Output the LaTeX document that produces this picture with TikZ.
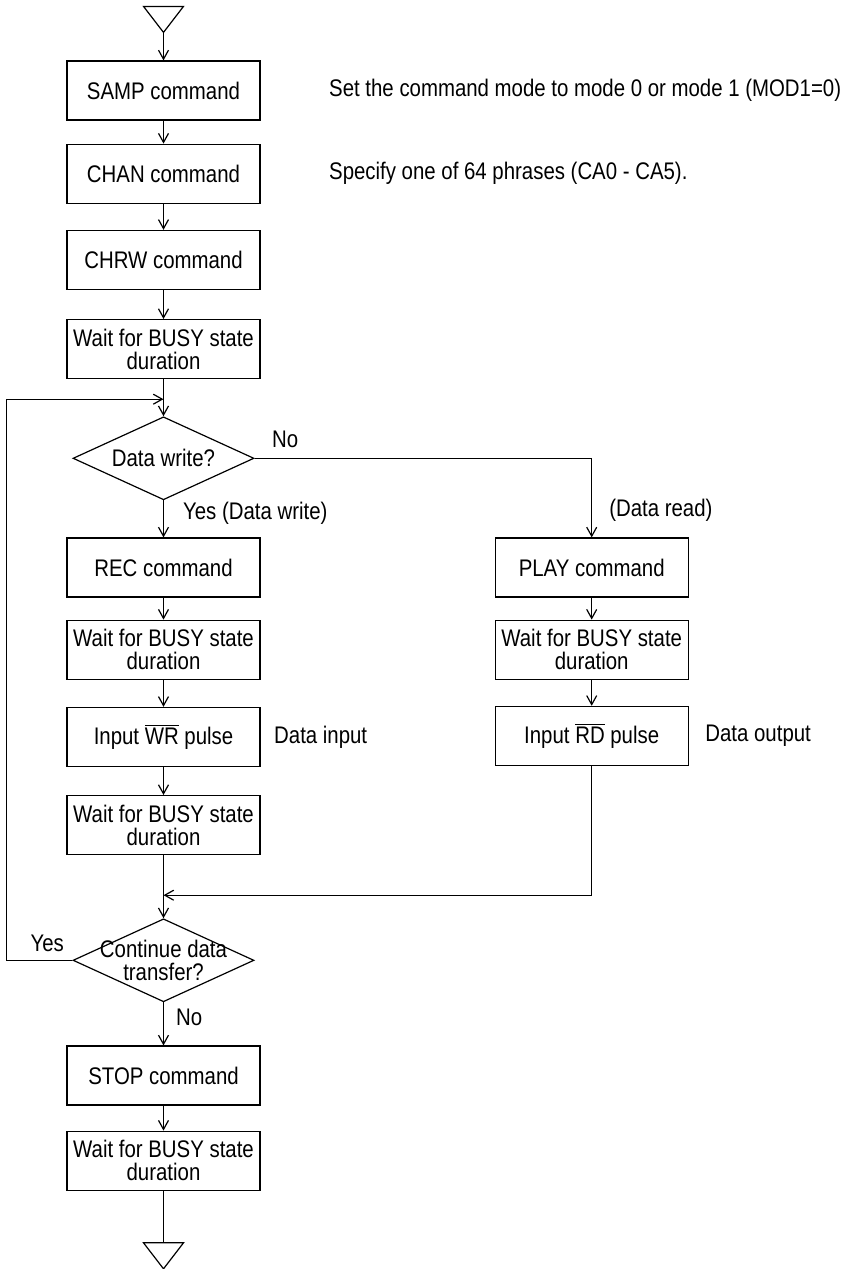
\documentclass[tikz,border=0pt]{standalone}
\usepackage{fontspec}
\setmainfont{Liberation Sans}[FakeStretch=0.85]
\usepackage{tikz}
\usetikzlibrary{shapes.geometric, arrows.meta, positioning}

\begin{document}
\begin{tikzpicture}[line width=0.6pt, font=\fontsize{12pt}{11.5pt}\selectfont]
    % Styles
    \tikzstyle{block} = [rectangle, draw, minimum width=96.5pt, minimum height=29.5pt, inner sep=2pt, align=center]
    \tikzstyle{decision} = [diamond, draw, aspect=2.18, minimum width=90.5pt, minimum height=41.5pt, inner sep=0pt, align=center]
    \tikzstyle{note} = [inner sep=0pt, align=left]
    \tikzstyle{line} = [draw, -{Straight Barb[length=4.5pt, width=5pt]}]

    \useasboundingbox (0,0) rectangle (426pt,-634.5pt);

    % --- MAIN COLUMN ---
    \node [block] (samp) at (81.75pt,-45.25pt) {SAMP command};
    \node [block, below=11.5pt of samp] (chan) {CHAN command};
    \node [block, below=13pt of chan] (chrw) {CHRW command};
    \node [block, below=14.5pt of chrw] (wait1) {Wait for BUSY state\\duration};
    \node [decision, below=18.5pt of wait1] (dwrite) {Data write?};
    \node [block, below=18.5pt of dwrite] (rec) {REC command};
    \node [block, below=11pt of rec] (wait2) {Wait for BUSY state\\duration};
    \node [block, below=13.5pt of wait2] (wr) {Input $\overline{\mbox{WR}}$ pulse};
    \node [block, below=14pt of wr] (wait3) {Wait for BUSY state\\duration};
    \node [decision, below=31.5pt of wait3] (dcont) {\makebox[0pt]{Continue data}\\\makebox[0pt]{transfer?}};
    \node [block, below=21.5pt of dcont] (stop) {STOP command};
    \node [block, below=12.5pt of stop] (wait4) {Wait for BUSY state\\duration};

    % --- READ BRANCH ---
    \node [block, right=117pt of rec] (play) {PLAY command};
    \node [block, below=11pt of play] (wait5) {Wait for BUSY state\\duration};
    \node [block, below=13pt of wait5] (rd) {Input $\overline{\mbox{RD}}$ pulse};

    % --- TERMINALS AND JOINS ---
    \coordinate [above=14pt of samp] (tstart);
    \coordinate [below=26pt of wait4] (tend);
    \coordinate [below=10pt of wait1] (join1);
    \coordinate [below=20pt of wait3] (join2);
    \draw (tstart) -- ++(-10pt,13pt) -- ++(20pt,0) -- cycle;
    \draw (tend) -- ++(-10pt,0) -- ++(10pt,-13pt) -- ++(10pt,13pt) -- cycle;

    % --- CONNECTIONS ---
    \path [line] (tstart) -- (samp);
    \path [line] (samp) -- (chan);
    \path [line] (chan) -- (chrw);
    \path [line] (chrw) -- (wait1);
    \path [line] (wait1) -- (dwrite);
    \path [line] (dwrite) -- node[note, right=9.5pt, pos=0.35] {Yes (Data write)} (rec);
    \path [line] (rec) -- (wait2);
    \path [line] (wait2) -- (wr);
    \path [line] (wr) -- (wait3);
    \path [line] (wait3) -- (dcont);
    \path [line] (dcont) -- node[note, right=6pt, pos=0.35] {No} (stop);
    \path [line] (stop) -- (wait4);
    \draw (wait4) -- (tend);

    % Read branch leaves the first decision
    \path [line] (dwrite.east) node[note, above right=5pt and 8.5pt] {No} -| node[note, pos=0.83, right=8.5pt] {(Data read)} (play.north);
    \path [line] (play) -- (wait5);
    \path [line] (wait5) -- (rd);
    \path [line] (rd) |- (join2);

    % Loop back for more data
    \path [line] (dcont.west) node[note, above left=4pt and 4pt] {Yes} -- ++(-33pt,0) |- (join1);

    % --- NOTES ---
    \node [note, right=34pt of samp] (sampnote) {Set the command mode to mode 0 or mode 1 (MOD1=0)};
    \node [note, right=34pt of chan] (channote) {Specify one of 64 phrases (CA0 - CA5).};
    \node [note, right=6.5pt of wr] (wrnote) {Data input};
    \node [note, right=8pt of rd] (rdnote) {Data output};

\end{tikzpicture}
\end{document}
